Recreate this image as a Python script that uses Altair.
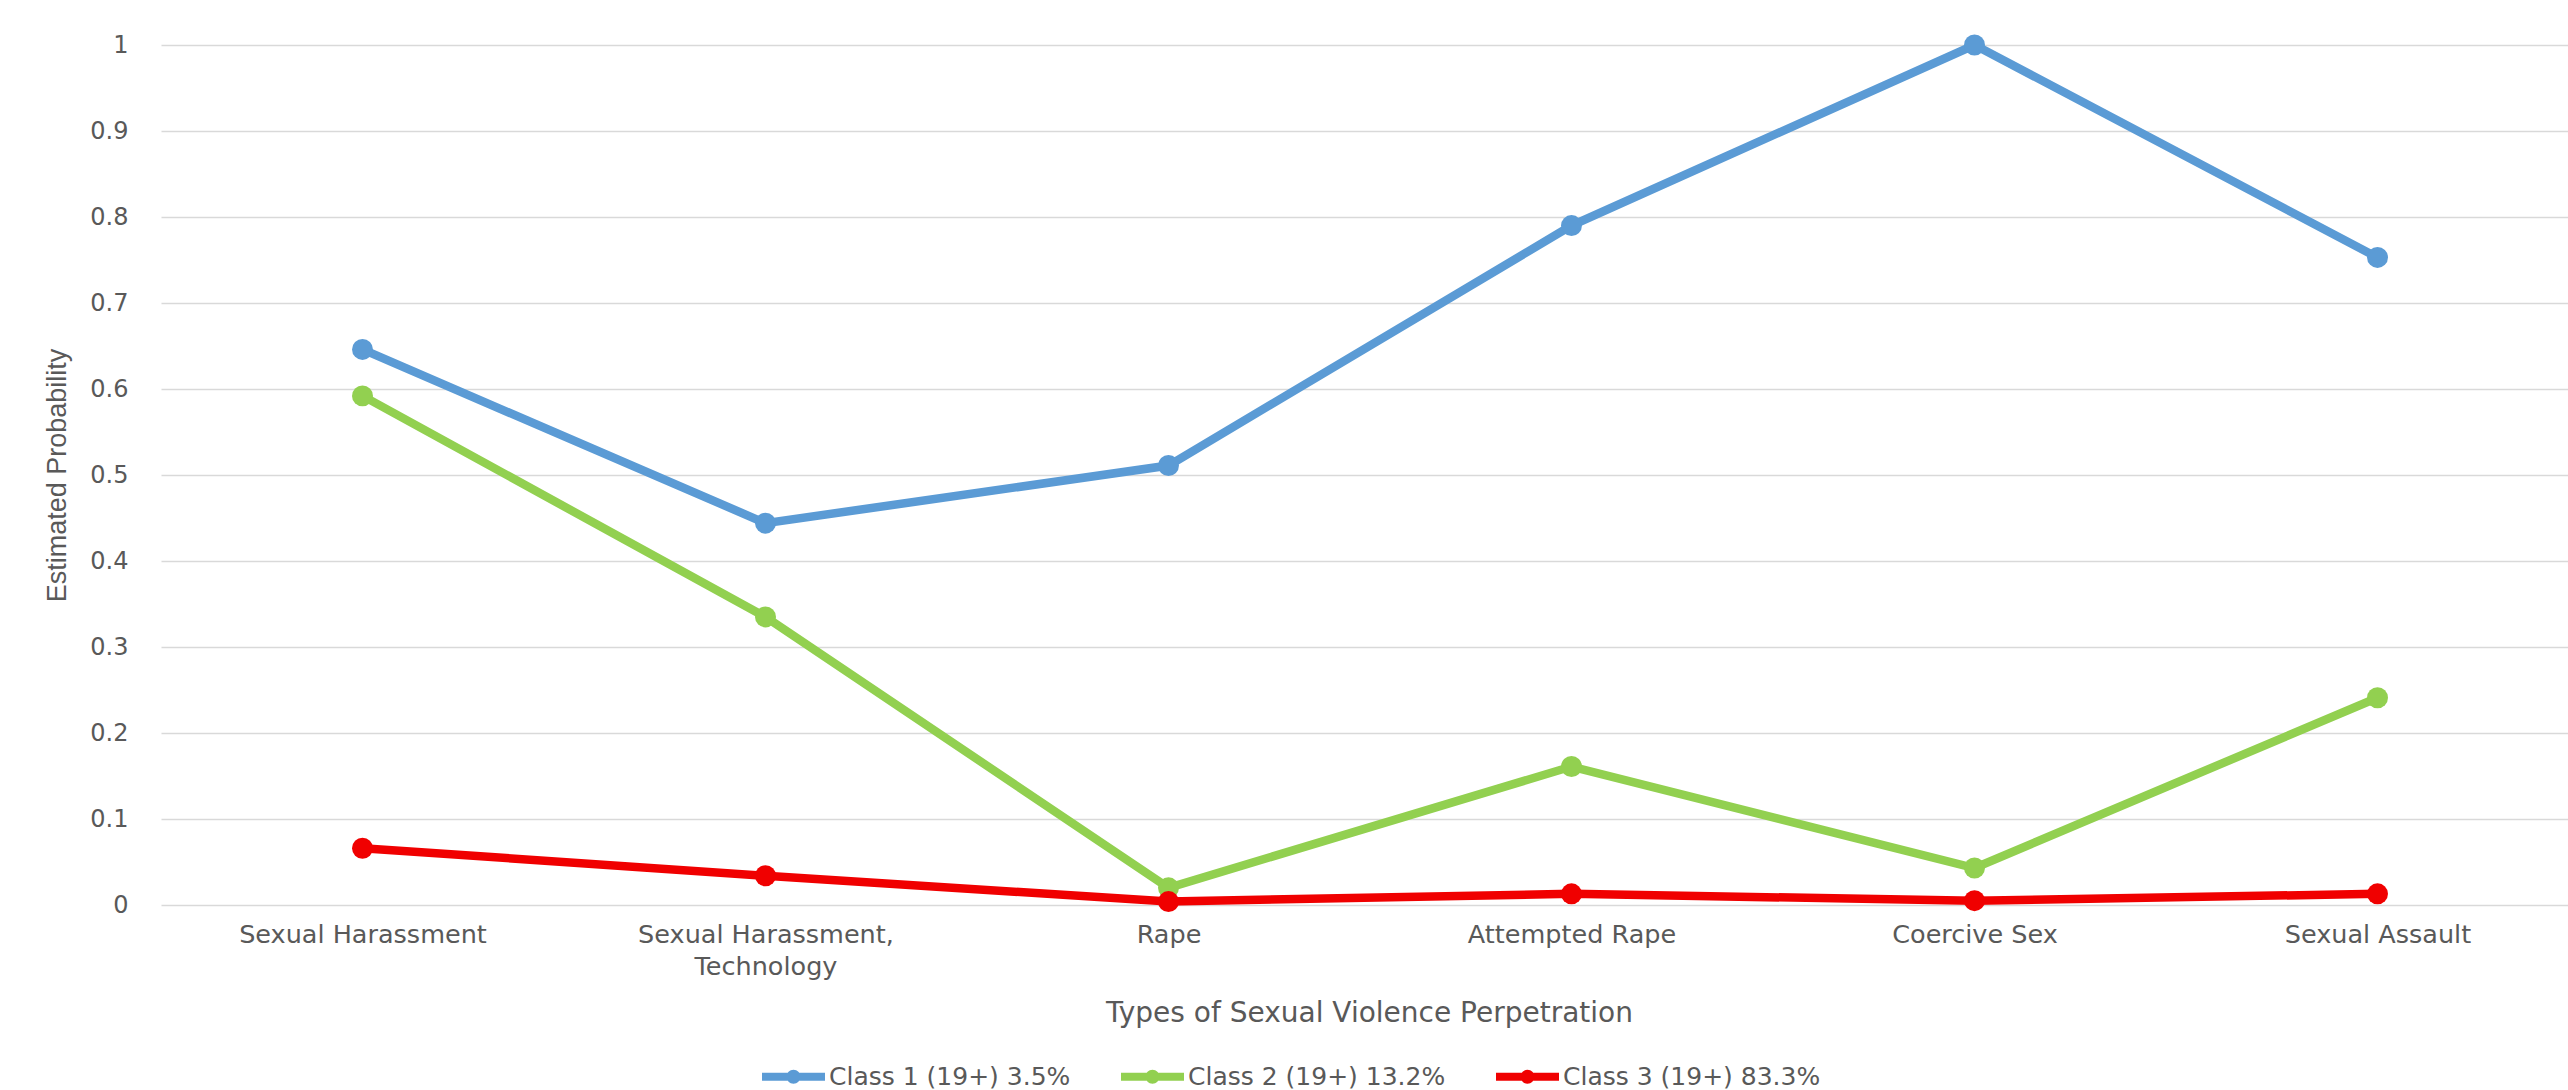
import altair as alt
import pandas as pd

categories = ["Sexual Harassment", "Sexual Harassment, Technology", "Rape",
              "Attempted Rape", "Coercive Sex", "Sexual Assault"]
series_names = ["Class 1 (19+) 3.5%", "Class 2 (19+) 13.2%", "Class 3 (19+) 83.3%"]
class1 = [0.646, 0.444, 0.511, 0.790, 1.000, 0.753]
class2 = [0.592, 0.335, 0.020, 0.161, 0.043, 0.241]
class3 = [0.066, 0.034, 0.004, 0.013, 0.005, 0.013]
colors = ["#5B9BD5", "#92D050", "#F00000"]
y_ticks = [0, 0.1, 0.2, 0.3, 0.4, 0.5, 0.6, 0.7, 0.8, 0.9, 1.0]

rows = []
for name, vals in zip(series_names, [class1, class2, class3]):
    for c, v in zip(categories, vals):
        rows.append({"cat": c, "series": name, "value": v})
df = pd.DataFrame(rows)

TEXT = "#595959"
FONT = "DejaVu Sans"

legend_path = ("M-1,-0.13 L-0.12,-0.13 L-0.12,0.13 L-1,0.13 Z "
               "M0.12,-0.13 L1,-0.13 L1,0.13 L0.12,0.13 Z "
               "M-0.22,0 A0.22,0.22 0 1,1 0.22,0 A0.22,0.22 0 1,1 -0.22,0 Z")

x_enc = alt.X(
    "cat:N", sort=categories,
    scale=alt.Scale(type="point", range=[0, 2418], padding=0.5),
    axis=alt.Axis(
        title="Types of Sexual Violence Perpetration",
        titleFont=FONT, titleFontSize=28, titleFontWeight="normal", titleColor=TEXT,
        titleX=1208, titleY=108, titleBaseline="middle", titleAlign="center",
        labelFont=FONT, labelFontSize=25.5, labelColor=TEXT, labelAngle=0,
        labelPadding=17, labelBaseline="top", labelLineHeight=32, labelLimit=600,
        labelExpr="datum.value == 'Sexual Harassment, Technology' ? ['Sexual Harassment,', 'Technology'] : datum.label",
        domain=False, ticks=False, grid=False,
    ),
)
y_enc = alt.Y(
    "value:Q",
    scale=alt.Scale(domain=[0, 1], nice=False, zero=True),
    axis=alt.Axis(
        title="Estimated Probability",
        titleFont="Liberation Sans", titleFontSize=27, titleFontWeight="normal", titleColor=TEXT,
        titleAngle=-90, titleX=-104, titleY=430, titleBaseline="middle", titleAlign="center",
        values=y_ticks, format="~g",
        labelFont=FONT, labelFontSize=24, labelColor=TEXT, labelPadding=33,
        domain=False, ticks=False, grid=True, gridColor="#D9D9D9", gridWidth=1.3,
    ),
)
color_scale = alt.Scale(domain=series_names, range=colors)
legend = alt.Legend(
    title=None, orient="none", legendX=601, legendY=1000,
    direction="horizontal", symbolType=legend_path, symbolSize=3969,
    symbolStrokeWidth=0, symbolOpacity=1, symbolFillColor="#000000",
    labelFont=FONT, labelFontSize=25, labelColor=TEXT, labelLimit=500,
    labelOffset=4, columnPadding=50,
)

lines = alt.Chart(df).mark_line(strokeWidth=8.5).encode(
    x=x_enc, y=y_enc,
    color=alt.Color("series:N", scale=color_scale, legend=legend),
)
points = alt.Chart(df).mark_point(filled=True, size=440, opacity=1).encode(
    x=x_enc, y=y_enc,
    color=alt.Color("series:N", scale=color_scale, legend=legend),
)

chart = alt.layer(lines, points).properties(
    width=2407, height=860,
    autosize=alt.AutoSizeParams(type="none"),
    padding={"left": 161, "top": 45, "right": 0, "bottom": 185},
    background="white",
).configure_view(stroke=None)

chart.save("out.html", embed_options={"renderer": "svg", "actions": False})
